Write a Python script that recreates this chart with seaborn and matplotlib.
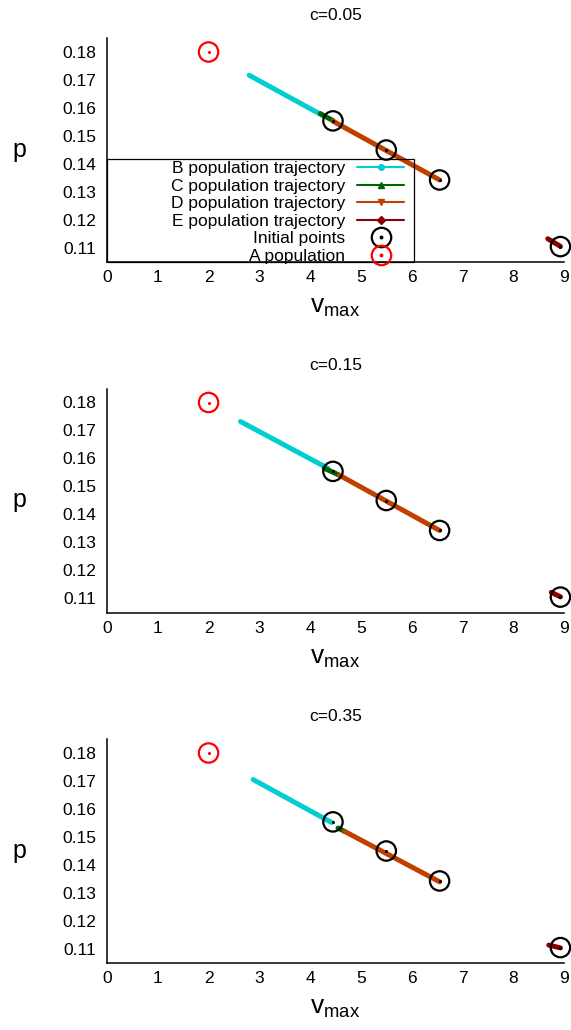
"""Trajectories of populations B-E in the (v_max, p) plane for three costs c."""
import matplotlib
matplotlib.use("Agg")
import matplotlib.pyplot as plt
from matplotlib.lines import Line2D
from matplotlib.patches import Rectangle
import pandas as pd
import seaborn as sns

sns.set_style("white")
plt.rcParams["font.family"] = ["Liberation Sans", "DejaVu Sans"]
plt.rcParams["mathtext.fontset"] = "custom"
plt.rcParams["mathtext.rm"] = "Liberation Sans"
plt.rcParams["mathtext.it"] = "Liberation Sans"
plt.rcParams["text.color"] = "black"
plt.rcParams["axes.labelcolor"] = "black"

# panel titles
C_LABELS = ["c=0.05", "c=0.15", "c=0.35"]

# trajectory end points per panel: [start, end]
B_V = [[2.80, 4.25], [2.63, 4.35], [2.88, 4.42]]
B_P = [[0.1717, 0.1573], [0.1732, 0.1565], [0.1705, 0.1552]]
C_V = [[4.20, 4.45], [4.28, 4.58], [4.55, 4.68]]
C_P = [[0.1580, 0.1555], [0.1565, 0.1540], [0.1532, 0.1520]]
D_V = [[4.45, 6.55], [4.58, 6.55], [4.68, 6.55]]
D_P = [[0.1553, 0.1343], [0.1540, 0.1343], [0.1520, 0.1340]]
E_V = [[8.68, 8.93], [8.75, 8.93], [8.70, 8.93]]
E_P = [[0.1133, 0.1106], [0.1122, 0.1106], [0.1114, 0.1104]]

# initial points and population A
INIT_V = [4.45, 5.50, 6.55, 8.93]
INIT_P = [0.1554, 0.1450, 0.1343, 0.1105]
A_V = [2.0]
A_P = [0.18]

POPULATIONS = ["B", "C", "D", "E"]
COLORS = {"B": "#00ced1", "C": "#006400", "D": "#c04000", "E": "#8b0000"}
MARKERS = {"B": "o", "C": "^", "D": "v", "E": "D"}
X_TICKS = list(range(10))
Y_TICKS = [0.11, 0.12, 0.13, 0.14, 0.15, 0.16, 0.17, 0.18]

rows = []
for k, c in enumerate(C_LABELS):
    for name, vv, pp in zip(POPULATIONS, [B_V, C_V, D_V, E_V], [B_P, C_P, D_P, E_P]):
        for v, p in zip(vv[k], pp[k]):
            rows.append({"c": c, "population": name, "v": v, "p": p})
traj = pd.DataFrame(rows)

FONT = 12.5
W, H = 571, 1030
fig = plt.figure(figsize=(W / 100, H / 100), dpi=100)


def ring(ax, xs, ys, color):
    """Open circle with a small dot in the middle, drawn over the axes edge."""
    sns.scatterplot(x=xs, y=ys, marker="o", s=195, color=color, edgecolor=color,
                    linewidth=1.6, clip_on=False, zorder=5, ax=ax)
    ax.collections[-1].set_facecolor("none")
    sns.scatterplot(x=xs, y=ys, marker="o", s=5, color=color, edgecolor=color,
                    linewidth=0, clip_on=False, zorder=6, ax=ax)


for k, c in enumerate(C_LABELS):
    top = 38 + 350.5 * k
    ax = fig.add_axes([107 / W, 1 - (top + 224) / H, 457 / W, 224 / H])

    sns.lineplot(data=traj[traj["c"] == c], x="v", y="p", hue="population",
                 palette=COLORS, estimator=None, sort=False, lw=3.6,
                 solid_capstyle="round", legend=False, ax=ax, zorder=2)
    ring(ax, INIT_V, INIT_P, "black")
    ring(ax, A_V, A_P, "red")

    ax.set_xlim(0, 9)
    ax.set_ylim(0.105, 0.185)
    ax.set_xticks(X_TICKS)
    ax.set_yticks(Y_TICKS)
    ax.set_yticklabels([f"{t:.2f}" for t in Y_TICKS])
    ax.tick_params(direction="in", length=5, width=1, labelsize=FONT, colors="black")
    ax.tick_params(axis="x", pad=6)
    ax.tick_params(axis="y", pad=8)
    sns.despine(ax=ax)
    for side in ("left", "bottom"):
        ax.spines[side].set_linewidth(1.1)
        ax.spines[side].set_color("black")

    ax.set_title(c, fontsize=FONT, pad=13, color="black")
    ax.set_ylabel("p", rotation=0, fontsize=18, va="center")
    ax.yaxis.set_label_coords((19 - 107) / 457, 0.5)
    ax.set_xlabel(r"$\mathregular{v_{max}}$", fontsize=19, va="top")
    ax.xaxis.set_label_coords(0.5, -33 / 224)

    if k == 0:
        handles = [Line2D([], [], color=COLORS[n], lw=1.5, marker=MARKERS[n], ms=4)
                   for n in POPULATIONS]
        for col in ("black", "red"):
            handles.append((Line2D([], [], ls="", marker="o", ms=14, mfc="none", mec=col, mew=1.6),
                            Line2D([], [], ls="", marker="o", ms=1.8, color=col)))
        labels = [f"{n} population trajectory" for n in POPULATIONS] + ["Initial points", "A population"]
        leg = ax.legend(handles, labels, loc="upper right",
                        bbox_to_anchor=((404 - 107) / 457, (262 - 161) / 224),
                        frameon=False, markerfirst=False, fontsize=FONT,
                        handlelength=2.7, handletextpad=0.7, labelspacing=0.135,
                        borderpad=0, borderaxespad=0)
        for t in leg.get_texts():
            t.set_color("black")
        ax.add_patch(Rectangle((0, 0), (414 - 107) / 457, (262 - 159) / 224,
                               transform=ax.transAxes, fill=False, edgecolor="black",
                               linewidth=0.9, clip_on=False, zorder=4))

fig.savefig("out.png", dpi=100)
